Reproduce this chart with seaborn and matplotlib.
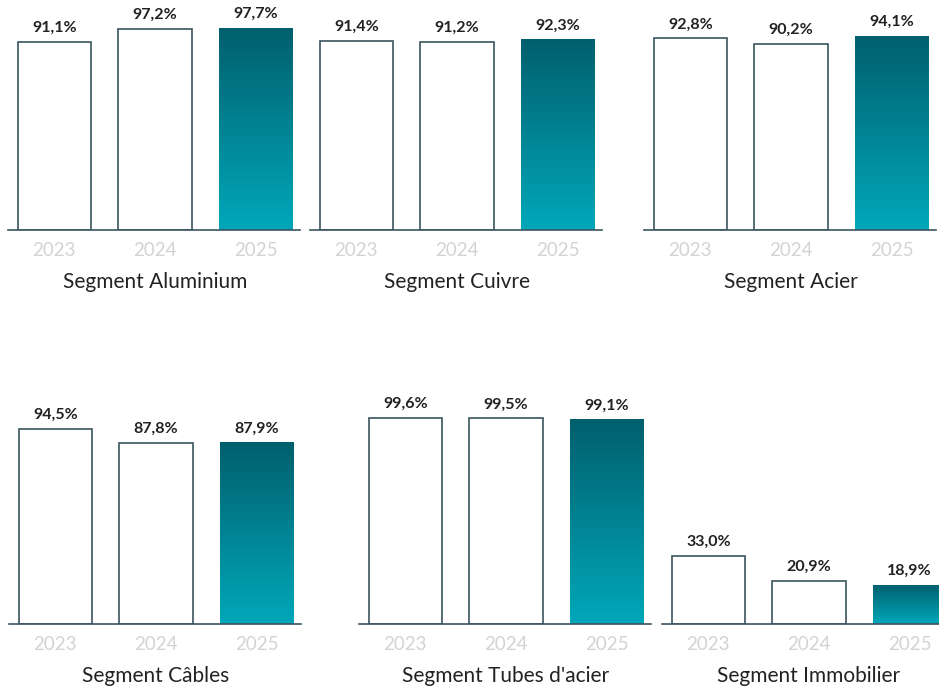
import numpy as np
import seaborn as sns
import matplotlib.pyplot as plt
from matplotlib.colors import LinearSegmentedColormap

years = ['2023', '2024', '2025']
segments = ['Segment Aluminium', 'Segment Cuivre', 'Segment Acier',
            'Segment Câbles', "Segment Tubes d'acier", 'Segment Immobilier']
aluminium = [91.1, 97.2, 97.7]
cuivre = [91.4, 91.2, 92.3]
acier = [92.8, 90.2, 94.1]
cables = [94.5, 87.8, 87.9]
tubes = [99.6, 99.5, 99.1]
immobilier = [33.0, 20.9, 18.9]
values = [aluminium, cuivre, acier, cables, tubes, immobilier]

# panel placement in pixels: (left edge, baseline from top)
W, H = 939, 688
panel_pos = [(8, 230), (310, 230), (644, 230),
             (9, 624), (359, 624), (662, 624)]
panel_w = 292
panel_h = 206.6  # height of 100 %

edge = '#3b5560'
teal = LinearSegmentedColormap.from_list('teal', ['#00a8ba', '#005f6d'])

sns.set_theme(style='white')
plt.rcParams['font.family'] = ['Lato', 'DejaVu Sans']

fig = plt.figure(figsize=(W / 100, H / 100), dpi=100)

for (left, base), title, vals in zip(panel_pos, segments, values):
    ax = fig.add_axes([left / W, (H - base) / H, panel_w / W, panel_h / H])
    sns.barplot(x=years, y=vals, color='white', edgecolor=edge, linewidth=1.2,
                width=0.73, saturation=1, ax=ax)
    for p in ax.patches[:2]:
        p.set_facecolor('white')

    # gradient fill for the last year
    bar = ax.patches[2]
    x0, w, h = bar.get_x(), bar.get_width(), bar.get_height()
    im = ax.imshow(np.linspace(0, 1, 256).reshape(-1, 1), extent=[x0, x0 + w, 0, h],
                   origin='lower', cmap=teal, aspect='auto', zorder=2)
    im.set_clip_path(bar)
    bar.set_facecolor('none')
    bar.set_edgecolor('none')

    ax.set_xlim(-0.46, 2.44)
    ax.set_ylim(0, 100)

    for i, v in enumerate(vals):
        ax.annotate(f'{v:.1f}'.replace('.', ',') + '%', xy=(i, v), xytext=(0, 5),
                    textcoords='offset points', ha='center', va='bottom',
                    fontsize=11.5, fontweight='bold', color='#222222',
                    annotation_clip=False)

    ax.annotate(title, xy=(1, 0), xycoords=('data', 'axes fraction'),
                xytext=(0, -41.5), textcoords='offset points', ha='center',
                va='baseline', fontsize=15, color='#222222', annotation_clip=False)

    ax.set_xlabel('')
    ax.set_ylabel('')
    ax.set_yticks([])
    ax.tick_params(axis='x', length=0, pad=8.5, labelsize=13.5, labelcolor='#d3d3d3')
    for s in ['top', 'left', 'right']:
        ax.spines[s].set_visible(False)
    ax.spines['bottom'].set_color(edge)
    ax.spines['bottom'].set_linewidth(1.2)
    ax.patch.set_alpha(0)

fig.savefig('out.png', dpi=100)
